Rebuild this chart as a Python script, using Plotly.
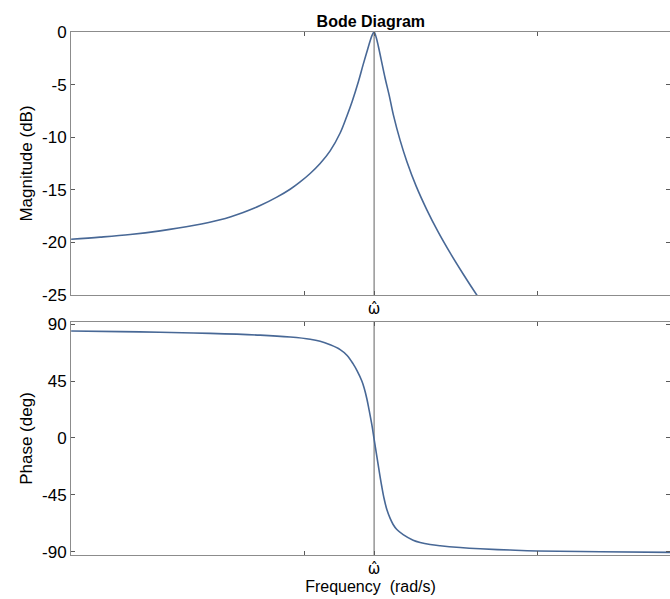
import plotly.graph_objects as go
from plotly.subplots import make_subplots

# ---- data ----
# frequencies are stored as decades relative to omega_hat (omega_hat = 2 rad/s)
w_hat = 2.0
decade_ticks = [1, 10]

mag_dec = [-1.3004, -1.1760, -1.0472, -0.9185, -0.7768, -0.6609, -0.5622, -0.4893,
           -0.4176, -0.3605, -0.3176, -0.2747, -0.2318, -0.1888, -0.1459, -0.1172,
           -0.0944, -0.0674, -0.0472, -0.0313, -0.0172, -0.0086, 0.0, 0.0086,
           0.0185, 0.0300, 0.0472, 0.0644, 0.0828, 0.1116, 0.1403, 0.1803,
           0.2262, 0.2747, 0.3262, 0.3820, 0.4421, 0.5408, 0.6953]
mag_db = [-19.70, -19.50, -19.25, -18.90, -18.40, -17.85, -17.15, -16.50,
          -15.70, -14.95, -14.25, -13.45, -12.50, -11.30, -9.60, -8.00,
          -6.60, -4.70, -3.10, -1.90, -0.85, -0.30, 0.0, -0.50,
          -1.40, -2.60, -4.40, -6.00, -7.90, -10.30, -12.30, -14.65,
          -16.90, -19.00, -21.00, -23.00, -25.05, -28.20, -33.00]

phase_dec = [-1.3004, -1.0901, -0.9185, -0.7039, -0.4893, -0.3605, -0.2747, -0.2318,
             -0.1888, -0.1459, -0.1159, -0.0901, -0.0730, -0.0528, -0.0429, -0.0313,
             -0.0215, -0.0099, 0.0, 0.0116, 0.0215, 0.0330, 0.0429, 0.0545,
             0.0687, 0.0815, 0.0974, 0.1245, 0.1674, 0.1974, 0.2403, 0.2833,
             0.3691, 0.4549, 0.5837, 0.6983, 0.9700, 1.2704]
phase_deg = [84.5, 84.0, 83.5, 82.6, 81.2, 79.7, 78.0, 76.4,
             73.6, 69.8, 65.2, 58.5, 53.0, 45.0, 39.5, 31.0,
             22.0, 10.5, -1.0, -14.5, -26.0, -38.5, -48.0, -56.5,
             -63.5, -68.3, -72.3, -76.3, -80.7, -82.5, -84.1, -85.1,
             -86.5, -87.5, -88.5, -89.2, -89.8, -90.3]

mag_ticks = [0, -5, -10, -15, -20, -25]
mag_ticktext = ["0", "-5", "-10", "-15", "-20", "-25"]
phase_ticks = [90, 45, 0, -45, -90]
phase_ticktext = ["90", "45", "0", "-45", "-90"]

mag_freq = [w_hat * 10 ** d for d in mag_dec]
phase_freq = [w_hat * 10 ** d for d in phase_dec]

LINE = "rgb(72,104,150)"
AX = "rgb(140,140,140)"
FONT = "Liberation Sans, Arial, Helvetica, sans-serif"

fig = make_subplots(rows=2, cols=1, shared_xaxes=False)

fig.add_trace(go.Scatter(x=mag_freq, y=mag_db, mode="lines",
                         line=dict(color=LINE, width=1.6, shape="spline", smoothing=1.0),
                         showlegend=False, hoverinfo="skip"), row=1, col=1)
fig.add_trace(go.Scatter(x=phase_freq, y=phase_deg, mode="lines",
                         line=dict(color=LINE, width=1.6, shape="spline", smoothing=1.0),
                         showlegend=False, hoverinfo="skip"), row=2, col=1)

xticks = [decade_ticks[0], w_hat, decade_ticks[1]]
xtext = ["", "ω̂", ""]
xcommon = dict(type="log", range=[-1, 1.5708], tickmode="array", tickvals=xticks,
               ticktext=xtext, ticks="inside", ticklen=4, tickcolor="rgb(90,90,90)",
               showline=True, linecolor=AX, linewidth=1, mirror="ticks",
               showgrid=False, zeroline=False,
               tickfont=dict(family="DejaVu Sans, sans-serif", size=15, color="black"))
fig.update_xaxes(**xcommon, domain=[0, 1], row=1, col=1)
fig.update_xaxes(**xcommon, domain=[0, 1], row=2, col=1,
                 title=dict(text="Frequency  (rad/s)", standoff=2,
                            font=dict(family=FONT, size=16, color="black")))

ycommon = dict(ticks="inside", ticklen=4, tickcolor="rgb(90,90,90)",
               showline=True, linecolor=AX, linewidth=1, mirror="ticks",
               showgrid=False, zeroline=False, tickmode="array",
               tickfont=dict(family=FONT, size=17, color="black"))
fig.update_yaxes(**ycommon, range=[-25, 0], tickvals=mag_ticks, ticktext=mag_ticktext,
                 domain=[0.4971, 1.0],
                 title=dict(text="Magnitude (dB)", standoff=5,
                            font=dict(family=FONT, size=17, color="black")),
                 row=1, col=1)
fig.update_yaxes(**ycommon, range=[-92.4, 91.6], tickvals=phase_ticks, ticktext=phase_ticktext,
                 domain=[0, 0.4455],
                 title=dict(text="Phase (deg)", standoff=5,
                            font=dict(family=FONT, size=17, color="black")),
                 row=2, col=1)

# vertical marker at omega_hat on both panels
for xr, yr in (("x", "y domain"), ("x2", "y2 domain")):
    fig.add_shape(type="line", xref=xr, yref=yr, x0=w_hat, x1=w_hat, y0=0, y1=1,
                  line=dict(color="rgb(150,150,150)", width=1.5), layer="below")

fig.update_layout(
    width=670, height=599,
    margin=dict(l=71, r=0, t=32, b=44),
    plot_bgcolor="white", paper_bgcolor="white",
    title=dict(text="<b>Bode Diagram</b>", x=0.5535, xanchor="center",
               yref="container", y=0.955, yanchor="bottom",
               font=dict(family=FONT, size=16, color="black")),
)

fig.write_html("out.html")
